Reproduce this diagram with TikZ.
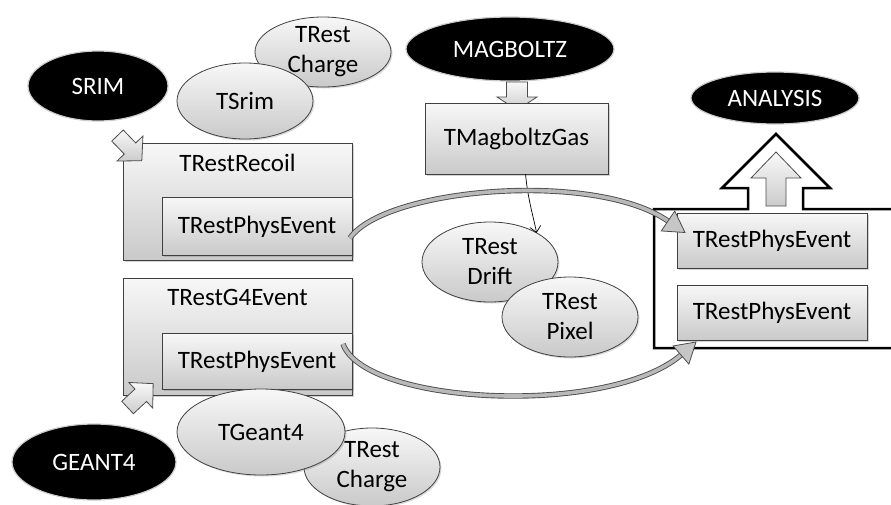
\documentclass[tikz,border=0pt]{standalone}
\usepackage{fontspec}
\setmainfont{Carlito}
\usetikzlibrary{shapes.geometric,shadows,calc,arrows.meta}
\begin{document}
\begin{tikzpicture}[x=1pt,y=-1pt,
  every node/.style={font=\fontsize{25}{30}\selectfont, inner sep=0pt, outer sep=0pt},
  txt/.style={text height=18pt, text depth=4pt},
  graybox/.style={rectangle, draw=black!75, line width=0.8pt, top color=gray!6, bottom color=gray!42,
    drop shadow={shadow xshift=1.5pt, shadow yshift=-1.5pt, opacity=0.35}},
  grayell/.style={ellipse, draw=black!75, line width=0.8pt, top color=gray!6, bottom color=gray!42,
    drop shadow={shadow xshift=1.5pt, shadow yshift=-1.5pt, opacity=0.3}},
  blackell/.style={ellipse, fill=black, draw=gray!40, line width=1.2pt, text=white},
  blockarrow/.style={draw=black!70, line width=0.8pt, top color=gray!5, bottom color=gray!40, line join=miter},
  band/.style={line width=3.6pt, draw=gray!55, preaction={draw=black!70, line width=5.4pt}},
  bandhead/.style={fill=gray!45, draw=black!70, line width=0.8pt, line join=miter},
  thinarr/.style={draw=black, line width=0.7pt, -{Straight Barb[length=6pt,width=11pt]}},
  frame/.style={draw=black, line width=2.5pt, line join=miter}
]
\useasboundingbox (0,0) rectangle (891,504);

% ---------- top left group ----------
\node[blackell, minimum width=140pt, minimum height=70pt] (srim) at (98,86) {SRIM};
\node[grayell, minimum width=136pt, minimum height=70pt,
      label={[align=center]center:TRest\\Charge}] (charge1) at (323,52) {};
\node[grayell, minimum width=136pt, minimum height=76pt] (tsrim) at (245,101) {TSrim};

\node[graybox, minimum width=229pt, minimum height=117pt] (recoil) at (237.5,201.5) {};
\node[txt] (recoilT) at (237.5,164) {TRestRecoil};
\node[graybox, minimum width=190pt, minimum height=58pt, txt] (phys1) at (257,226) {TRestPhysEvent};

\begin{scope}[shift={(130,148.5)}, rotate=-46]
  \path[blockarrow] (-18,-8) -- (0,-8) -- (0,-18) -- (17,0) -- (0,18) -- (0,8) -- (-18,8) -- cycle;
\end{scope}

% ---------- bottom left group ----------
\node[graybox, minimum width=229pt, minimum height=117pt] (g4ev) at (237.5,336.5) {};
\node[txt] (g4evT) at (237.5,298) {TRestG4Event};
\node[graybox, minimum width=190pt, minimum height=56pt, txt] (phys2) at (257,361) {TRestPhysEvent};

\node[blackell, minimum width=164pt, minimum height=76pt] (geant) at (94,462) {GEANT4};
\node[grayell, minimum width=136pt, minimum height=78pt,
      label={[align=center]center:TRest\\Charge}] (charge2) at (372,467) {};
\node[grayell, minimum width=168pt, minimum height=86pt] (tgeant) at (261,432) {TGeant4};

\begin{scope}[shift={(140.75,395.25)}, rotate=43]
  \path[blockarrow] (-18,-8.5) -- (0,-8.5) -- (0,-17.5) -- (17,0) -- (0,17.5) -- (0,8.5) -- (-18,8.5) -- cycle;
\end{scope}

% ---------- middle group ----------
\node[blackell, minimum width=208pt, minimum height=64pt] (magb) at (510,49) {MAGBOLTZ};
\begin{scope}[shift={(517,96)}, rotate=-90]
  \path[blockarrow] (-14,-10.5) -- (1,-10.5) -- (1,-20) -- (14,0) -- (1,20) -- (1,10.5) -- (-14,10.5) -- cycle;
\end{scope}
\node[graybox, minimum width=183pt, minimum height=71pt, txt] (mgas) at (516.5,138.5) {TMagboltzGas};

\node[grayell, minimum width=136pt, minimum height=80pt,
      label={[align=center]center:TRest\\Drift}] (drift) at (490,262) {};
\node[grayell, minimum width=136pt, minimum height=80pt,
      label={[align=center]center:TRest\\Pixel}] (pixel) at (570,317) {};

\draw[thinarr] ([xshift=9pt]mgas.south) .. controls (528,200) and (533,215) .. (drift.32);

% ---------- right group ----------
\node[blackell, minimum width=168pt, minimum height=52pt] (anal) at (775,98) {ANALYSIS};
\draw[frame] (891,209) -- (803,209) -- (803,188) -- (830,188) -- (776,134) -- (722,188)
  -- (748,188) -- (748,209) -- (654,209) -- (654,348) -- (891,348);
\path[blockarrow] (766,206) -- (766,178) -- (751,178) -- (776,152) -- (801,178) -- (786,178) -- (786,206) -- cycle;

\node[graybox, minimum width=190pt, minimum height=55pt, txt] (rphys1) at (772,240.5) {TRestPhysEvent};
\node[graybox, minimum width=190pt, minimum height=55pt, txt] (rphys2) at (772,312.5) {TRestPhysEvent};

% ---------- curved block arrows ----------
\coordinate (u0) at (350,238);
\coordinate (uB) at (668,221);
\coordinate (uT) at (685,232.5);
\draw[band] (u0) .. controls (385,188) and (594,170) .. (uB);
\filldraw[bandhead] (uT) -- ($(uB)!12pt!90:(uT)$) -- ($(uB)!12pt!-90:(uT)$) -- cycle;

\coordinate (l0) at (343,344);
\coordinate (lB) at (681,355);
\coordinate (lT) at (696,342);
\draw[band] (l0) .. controls (365,405) and (608,417) .. (lB);
\filldraw[bandhead] (lT) -- ($(lB)!12pt!90:(lT)$) -- ($(lB)!12pt!-90:(lT)$) -- cycle;
\end{tikzpicture}
\end{document}
